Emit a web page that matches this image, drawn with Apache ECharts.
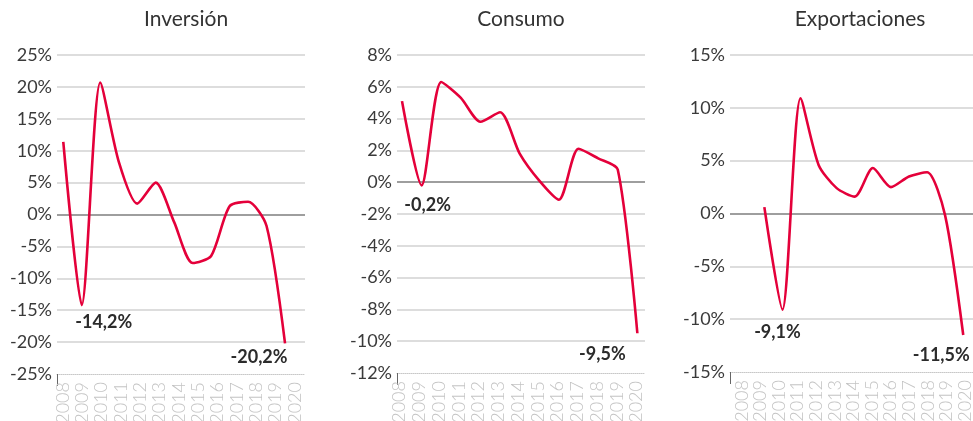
<!DOCTYPE html>
<html lang="es">
<head>
<meta charset="UTF-8">
<title>Inversión, Consumo, Exportaciones</title>
<script src="https://cdn.jsdelivr.net/npm/echarts@6/dist/echarts.min.js"></script>
<style>
  html, body { margin: 0; padding: 0; background: #fff; }
  #main { width: 973px; height: 421px; }
</style>
</head>
<body>
<div id="main"></div>
<script>
// datos
var years = [2008, 2009, 2010, 2011, 2012, 2013, 2014, 2015, 2016, 2017, 2018, 2019, 2020];
var inversion = [11.4, -14.2, 20.7, 8.3, 1.7, 5.0, -1.2, -7.6, -6.5, 1.3, 2.0, -1.8, -20.2];
var consumo = [5.1, -0.2, 6.3, 5.3, 3.8, 4.4, 1.8, 0.1, -1.1, 2.1, 1.5, 0.8, -9.5];
var exportaciones = [null, 0.6, -9.1, 10.9, 4.6, 2.4, 1.6, 4.3, 2.5, 3.5, 3.9, -0.2, -11.5];
var titles = ['Inversión', 'Consumo', 'Exportaciones'];
// años con etiqueta
var marcados = [[2009, 2020], [2009, 2020], [2010, 2020]];

var RED = '#e4003a';
var FONT = 'Lato';

function fmt(v) {
    return v.toFixed(1).replace('.', ',') + '%';
}

// arma los puntos [año, valor] con etiqueta en los años marcados
function buildData(vals, marks, offsets) {
    var out = [];
    for (var i = 0; i < years.length; i++) {
        if (vals[i] === null) continue;
        var k = marks.indexOf(years[i]);
        var item = { value: [years[i], vals[i]] };
        if (k >= 0) {
            item.label = {
                show: true,
                position: 'inside',
                offset: offsets[k],
                formatter: function (p) { return fmt(p.value[1]); },
                fontFamily: FONT,
                fontWeight: 'bold',
                fontSize: 18,
                color: '#2b2b2b'
            };
        }
        out.push(item);
    }
    return out;
}

var grids = [
    { left: 57, top: 55, width: 248, height: 319, outerBoundsMode: 'none' },
    { left: 397, top: 55, width: 248, height: 318, outerBoundsMode: 'none' },
    { left: 730, top: 55, width: 243, height: 317, outerBoundsMode: 'none' }
];
var yRange = [[-25, 25, 5], [-12, 8, 2], [-15, 15, 5]];
var dataX = [[2007.66, 2021.08], [2007.745, 2020.39], [2007.1, 2020.54]];
var labelX = [[2007.69, 2020.52], [2007.87, 2020.43], [2007.37, 2020.43]];
var titleX = [186, 521, 860];
var offsets = [
    [[22, 17], [-26, 14]],
    [[6, 20], [-35, 21]],
    [[-5, 23], [-22, 20]]
];
var series_vals = [inversion, consumo, exportaciones];

var xAxis = [], yAxis = [], series = [], title = [];
for (var g = 0; g < 3; g++) {
    title.push({
        text: titles[g],
        left: titleX[g],
        top: 9,
        textAlign: 'center',
        padding: 0,
        textStyle: { fontFamily: FONT, fontWeight: 'normal', fontSize: 21, color: '#333' }
    });
    // eje de datos (oculto)
    xAxis.push({
        type: 'value', gridIndex: g, min: dataX[g][0], max: dataX[g][1], show: false
    });
    // eje solo para etiquetas
    xAxis.push({
        type: 'value', gridIndex: g, min: labelX[g][0], max: labelX[g][1],
        position: 'bottom',
        axisLine: { show: true, lineStyle: { color: '#c8c8c8', type: 'dotted', width: 1 } },
        axisTick: { show: true, customValues: [labelX[g][0]], length: 12, lineStyle: { color: '#666', width: 1 } },
        splitLine: { show: false },
        axisLabel: {
            customValues: years,
            rotate: 90,
            margin: 8,
            hideOverlap: false,
            fontFamily: FONT,
            fontWeight: 300,
            fontSize: 18,
            color: '#c4c4c4',
            formatter: function (v) { return String(Math.round(v)); }
        }
    });
    yAxis.push({
        type: 'value', gridIndex: g,
        min: yRange[g][0], max: yRange[g][1], interval: yRange[g][2],
        axisLine: { show: false },
        axisTick: { show: false },
        splitLine: { show: true, showMinLine: false, lineStyle: { color: '#d2d2d2', width: 1.5 } },
        axisLabel: {
            margin: 5,
            fontFamily: FONT,
            fontSize: 18,
            color: '#3a3a3a',
            formatter: '{value}%'
        }
    });
    series.push({
        type: 'line',
        xAxisIndex: g * 2,
        yAxisIndex: g,
        data: buildData(series_vals[g], marcados[g], offsets[g]),
        smooth: 0.25,
        symbol: 'circle',
        symbolSize: 0,
        showSymbol: true,
        lineStyle: { color: RED, width: 2.6 },
        itemStyle: { color: RED },
        label: { show: false },
        markLine: {
            silent: true,
            symbol: 'none',
            label: { show: false },
            lineStyle: { color: '#8a8a8a', width: 1.5, type: 'solid' },
            data: [{ yAxis: 0 }],
            z: 1
        },
        animation: false
    });
}

var chart = echarts.init(document.getElementById('main'));
chart.setOption({
    animation: false,
    title: title,
    grid: grids,
    xAxis: xAxis,
    yAxis: yAxis,
    series: series
});
</script>
</body>
</html>
